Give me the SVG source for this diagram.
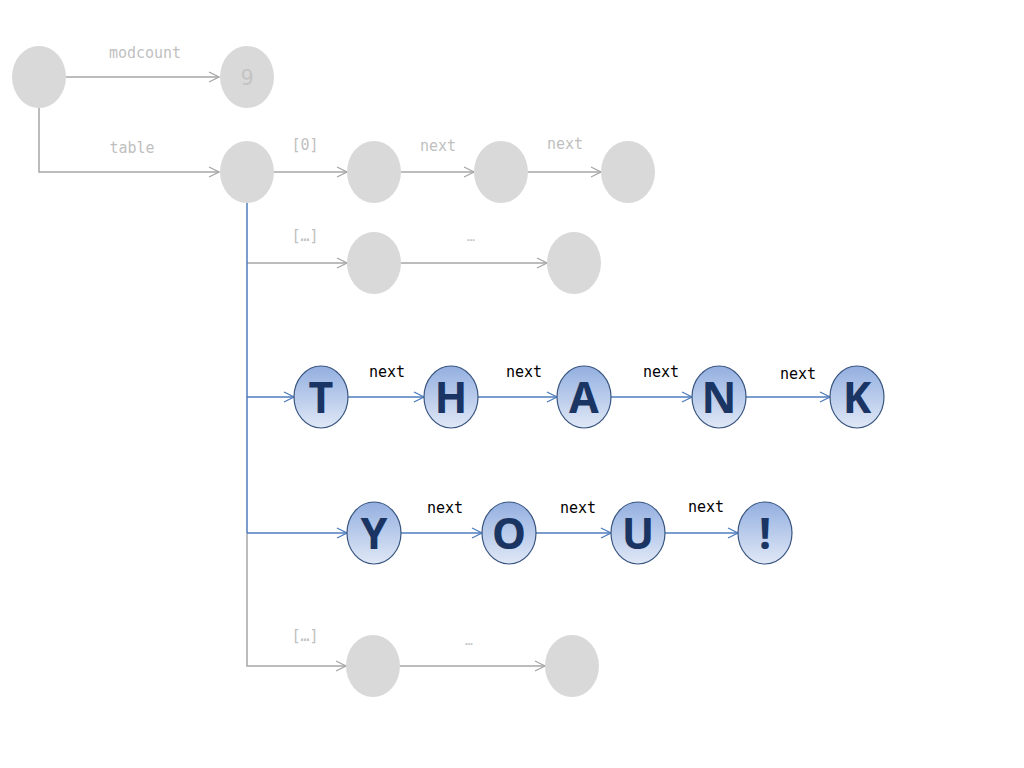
<svg xmlns="http://www.w3.org/2000/svg" width="1024" height="768" viewBox="0 0 1024 768">
<defs>
<linearGradient id="bg" x1="0" y1="0" x2="0" y2="1">
<stop offset="0" stop-color="#93afe0"/>
<stop offset="1" stop-color="#e0e8f6"/>
</linearGradient>
<marker id="ag" viewBox="0 0 12 12" refX="11" refY="6" markerWidth="12" markerHeight="12" markerUnits="userSpaceOnUse" orient="auto">
<path d="M1,1 L11,6 L1,11" fill="none" stroke="#a6a6a6" stroke-width="1.3"/>
</marker>
<marker id="ab" viewBox="0 0 12 12" refX="11" refY="6" markerWidth="12" markerHeight="12" markerUnits="userSpaceOnUse" orient="auto">
<path d="M1,1 L11,6 L1,11" fill="none" stroke="#4f7dbd" stroke-width="1.3"/>
</marker>
</defs>
<style>
.g{fill:#d9d9d9;stroke:none}
.b{fill:url(#bg);stroke:#3a5680;stroke-width:1.2}
.lg{fill:none;stroke:#a6a6a6;stroke-width:1.5}
.lb{fill:none;stroke:#4f7dbd;stroke-width:1.5}
.tg{font-family:"DejaVu Sans Mono","Liberation Mono",monospace;font-size:15px;fill:#bfbfbf;text-anchor:middle}
.tb{font-family:"DejaVu Sans Mono","Liberation Mono",monospace;font-size:15px;fill:#000;text-anchor:middle}
.L{font-family:"Noto Sans","Open Sans",sans-serif;font-weight:bold;font-size:43px;fill:#1a3563;text-anchor:middle}
.n9{font-family:"DejaVu Sans Mono",monospace;font-size:22px;fill:#c4c4c4;text-anchor:middle}
</style>
<rect width="1024" height="768" fill="#fff"/>
<g id="connectors">
<path class="lg" d="M66,77 H219" marker-end="url(#ag)"/>
<path class="lg" d="M39,108 V172 H219" marker-end="url(#ag)"/>
<path class="lg" d="M274,172 H347" marker-end="url(#ag)"/>
<path class="lg" d="M401,172 H474" marker-end="url(#ag)"/>
<path class="lg" d="M528,172 H601" marker-end="url(#ag)"/>
<path class="lg" d="M247,263 H347" marker-end="url(#ag)"/>
<path class="lg" d="M401,263 H547" marker-end="url(#ag)"/>
<path class="lb" d="M247,203 V533"/>
<path class="lg" d="M247,533 V666 H346" marker-end="url(#ag)"/>
<path class="lg" d="M400,666 H545" marker-end="url(#ag)"/>
<path class="lb" d="M247,397 H294" marker-end="url(#ab)"/>
<path class="lb" d="M348,397 H424" marker-end="url(#ab)"/>
<path class="lb" d="M478,397 H557" marker-end="url(#ab)"/>
<path class="lb" d="M611,397 H692" marker-end="url(#ab)"/>
<path class="lb" d="M746,397 H830" marker-end="url(#ab)"/>
<path class="lb" d="M247,533 H347" marker-end="url(#ab)"/>
<path class="lb" d="M401,533 H482" marker-end="url(#ab)"/>
<path class="lb" d="M536,533 H611" marker-end="url(#ab)"/>
<path class="lb" d="M665,533 H738" marker-end="url(#ab)"/>
<text class="tg" x="145" y="58">modcount</text>
<text class="tg" x="132" y="153">table</text>
<text class="tg" x="305" y="150">[0]</text>
<text class="tg" x="438" y="151">next</text>
<text class="tg" x="565" y="149">next</text>
<text class="tg" x="305" y="241">[…]</text>
<text class="tg" x="471" y="241" style="font-size:13px">…</text>
<text class="tg" x="305" y="641">[…]</text>
<text class="tg" x="469" y="645" style="font-size:13px">…</text>
<text class="tb" x="387" y="377">next</text>
<text class="tb" x="524" y="377">next</text>
<text class="tb" x="661" y="377">next</text>
<text class="tb" x="798" y="379">next</text>
<text class="tb" x="445" y="513">next</text>
<text class="tb" x="578" y="513">next</text>
<text class="tb" x="706" y="512">next</text>
</g>
<g id="root"><ellipse class="g" cx="39" cy="77" rx="27" ry="31"/></g>
<g id="modcount"><ellipse class="g" cx="247" cy="77" rx="27" ry="31"/><text class="n9" x="247" y="85">9</text></g>
<g id="table"><ellipse class="g" cx="247" cy="172" rx="27" ry="31"/></g>
<g id="b0a"><ellipse class="g" cx="374" cy="172" rx="27" ry="31"/></g>
<g id="b0b"><ellipse class="g" cx="501" cy="172" rx="27" ry="31"/></g>
<g id="b0c"><ellipse class="g" cx="628" cy="172" rx="27" ry="31"/></g>
<g id="b1a"><ellipse class="g" cx="374" cy="263" rx="27" ry="31"/></g>
<g id="b1b"><ellipse class="g" cx="574" cy="263" rx="27" ry="31"/></g>
<g id="b4a"><ellipse class="g" cx="373" cy="666" rx="27" ry="31"/></g>
<g id="b4b"><ellipse class="g" cx="572" cy="666" rx="27" ry="31"/></g>
<g id="nT"><ellipse class="b" cx="321" cy="397" rx="27" ry="31"/><text class="L" x="321" y="413">T</text></g>
<g id="nH"><ellipse class="b" cx="451" cy="397" rx="27" ry="31"/><text class="L" x="451" y="413">H</text></g>
<g id="nA"><ellipse class="b" cx="584" cy="397" rx="27" ry="31"/><text class="L" x="584" y="413">A</text></g>
<g id="nN"><ellipse class="b" cx="719" cy="397" rx="27" ry="31"/><text class="L" x="719" y="413">N</text></g>
<g id="nK"><ellipse class="b" cx="857" cy="397" rx="27" ry="31"/><text class="L" x="857" y="413">K</text></g>
<g id="nY"><ellipse class="b" cx="374" cy="533" rx="27" ry="31"/><text class="L" x="374" y="549">Y</text></g>
<g id="nO"><ellipse class="b" cx="509" cy="533" rx="27" ry="31"/><text class="L" x="509" y="549">O</text></g>
<g id="nU"><ellipse class="b" cx="638" cy="533" rx="27" ry="31"/><text class="L" x="638" y="549">U</text></g>
<g id="nEx"><ellipse class="b" cx="765" cy="533" rx="27" ry="31"/><text class="L" x="765" y="549">!</text></g>
</svg>
